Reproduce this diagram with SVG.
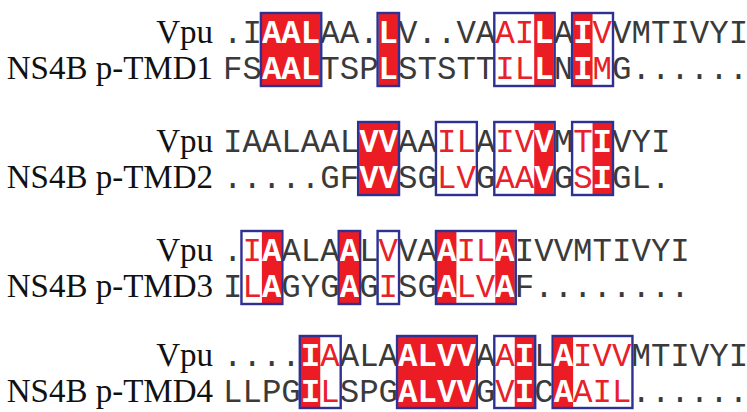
<svg xmlns="http://www.w3.org/2000/svg" width="747" height="412" viewBox="0 0 747 412">
<style>
.lbl{font-family:"Liberation Serif","Times New Roman",serif;font-size:33px;fill:#111;text-anchor:end}
.seq{font-family:"Liberation Mono","Courier New",monospace;font-size:32.42px;fill:#3a3a3a}
.r{fill:#E8202A}
.w{fill:#fff;font-weight:bold}
.f{fill:#EC1C24}
.b{fill:none;stroke:#2E3192;stroke-width:2.4}
</style>
<rect width="747" height="412" fill="#fff"/>
<g id="block1">
<rect class="f" x="261.9" y="13" width="58.35" height="73"/>
<rect class="f" x="378.6" y="13" width="19.45" height="73"/>
<rect class="f" x="534.2" y="13" width="19.45" height="73"/>
<rect class="f" x="573.1" y="13" width="19.45" height="73"/>
<text class="lbl" x="213" y="43">Vpu</text>
<text class="lbl" x="213" y="79">NS4B p-TMD1</text>
<text class="seq" x="223" y="43">.I<tspan class="w">AAL</tspan>AA.<tspan class="w">L</tspan>V..VA<tspan class="r">AI</tspan><tspan class="w">L</tspan>A<tspan class="w">I</tspan><tspan class="r">V</tspan>VMTIVYI</text>
<text class="seq" x="223" y="79">FS<tspan class="w">AAL</tspan>TSP<tspan class="w">L</tspan>STSTT<tspan class="r">IL</tspan><tspan class="w">L</tspan>N<tspan class="w">I</tspan><tspan class="r">M</tspan>G......</text>
<rect class="b" x="260.9" y="13" width="60.35" height="73"/>
<rect class="b" x="377.6" y="13" width="21.45" height="73"/>
<rect class="b" x="494.3" y="13" width="60.35" height="73"/>
<rect class="b" x="572.1" y="13" width="40.9" height="73"/>
</g>
<g id="block2">
<rect class="f" x="359.15" y="122" width="38.9" height="73"/>
<rect class="f" x="534.2" y="122" width="19.45" height="73"/>
<rect class="f" x="592.55" y="122" width="19.45" height="73"/>
<text class="lbl" x="213" y="152">Vpu</text>
<text class="lbl" x="213" y="188">NS4B p-TMD2</text>
<text class="seq" x="223" y="152">IAALAAL<tspan class="w">VV</tspan>AA<tspan class="r">IL</tspan>A<tspan class="r">IV</tspan><tspan class="w">V</tspan>M<tspan class="r">T</tspan><tspan class="w">I</tspan>VYI</text>
<text class="seq" x="223" y="188">.....GF<tspan class="w">VV</tspan>SG<tspan class="r">LV</tspan>G<tspan class="r">AA</tspan><tspan class="w">V</tspan>G<tspan class="r">S</tspan><tspan class="w">I</tspan>GL.</text>
<rect class="b" x="358.15" y="122" width="40.9" height="73"/>
<rect class="b" x="435.95" y="122" width="40.9" height="73"/>
<rect class="b" x="494.3" y="122" width="60.35" height="73"/>
<rect class="b" x="572.1" y="122" width="40.9" height="73"/>
</g>
<g id="block3">
<rect class="f" x="261.9" y="231" width="19.45" height="73"/>
<rect class="f" x="339.7" y="231" width="19.45" height="73"/>
<rect class="f" x="436.95" y="231" width="19.45" height="73"/>
<rect class="f" x="495.3" y="231" width="19.45" height="73"/>
<text class="lbl" x="213" y="261">Vpu</text>
<text class="lbl" x="213" y="297">NS4B p-TMD3</text>
<text class="seq" x="223" y="261">.<tspan class="r">I</tspan><tspan class="w">A</tspan>ALA<tspan class="w">A</tspan>L<tspan class="r">V</tspan>VA<tspan class="w">A</tspan><tspan class="r">IL</tspan><tspan class="w">A</tspan>IVVMTIVYI</text>
<text class="seq" x="223" y="297">I<tspan class="r">L</tspan><tspan class="w">A</tspan>GYG<tspan class="w">A</tspan>G<tspan class="r">I</tspan>SG<tspan class="w">A</tspan><tspan class="r">LV</tspan><tspan class="w">A</tspan>F........</text>
<rect class="b" x="241.45" y="231" width="40.9" height="73"/>
<rect class="b" x="338.7" y="231" width="21.45" height="73"/>
<rect class="b" x="377.6" y="231" width="21.45" height="73"/>
<rect class="b" x="435.95" y="231" width="79.8" height="73"/>
</g>
<g id="block4">
<rect class="f" x="300.8" y="336" width="19.45" height="72"/>
<rect class="f" x="398.05" y="336" width="77.8" height="72"/>
<rect class="f" x="514.75" y="336" width="19.45" height="72"/>
<rect class="f" x="553.65" y="336" width="19.45" height="72"/>
<text class="lbl" x="213" y="366">Vpu</text>
<text class="lbl" x="213" y="402">NS4B p-TMD4</text>
<text class="seq" x="223" y="366">....<tspan class="w">I</tspan><tspan class="r">A</tspan>ALA<tspan class="w">ALVV</tspan>A<tspan class="r">A</tspan><tspan class="w">I</tspan>L<tspan class="w">A</tspan><tspan class="r">IVV</tspan>MTIVYI</text>
<text class="seq" x="223" y="402">LLPG<tspan class="w">I</tspan><tspan class="r">L</tspan>SPG<tspan class="w">ALVV</tspan>G<tspan class="r">V</tspan><tspan class="w">I</tspan>C<tspan class="w">A</tspan><tspan class="r">AIL</tspan>......</text>
<rect class="b" x="299.8" y="336" width="40.9" height="72"/>
<rect class="b" x="397.05" y="336" width="79.8" height="72"/>
<rect class="b" x="494.3" y="336" width="40.9" height="72"/>
<rect class="b" x="552.65" y="336" width="79.8" height="72"/>
</g>
</svg>
